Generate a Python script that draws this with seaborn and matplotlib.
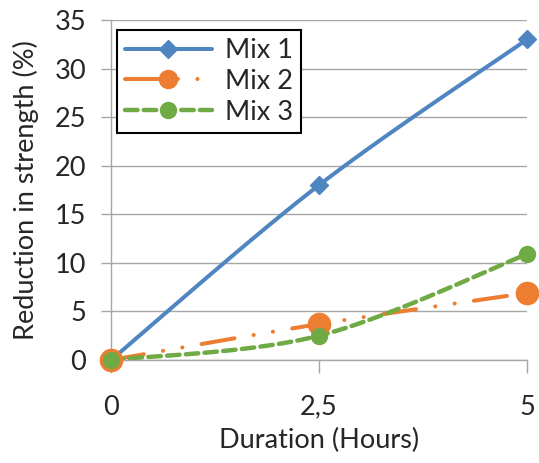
import numpy as np
import pandas as pd
import matplotlib
matplotlib.use("Agg")
import matplotlib.pyplot as plt
from matplotlib.lines import Line2D
import seaborn as sns

# data
hours = [0, 2.5, 5]
hour_labels = ["0", "2,5", "5"]
mix1 = [0, 18, 33]
mix2 = [0, 3.7, 6.9]
mix3 = [0, 2.5, 10.9]
series_names = ["Mix 1", "Mix 2", "Mix 3"]

sns.set_style("white")
plt.rcParams['font.family'] = ['Lato', 'DejaVu Sans']
plt.rcParams['lines.scale_dashes'] = False


def smooth(x, y, n=60):
    # Excel style smoothed line: cubic bezier through the points
    pts = np.column_stack([x, y]).astype(float)
    p = np.vstack([pts[0], pts, pts[-1]])
    out = []
    t = np.linspace(0, 1, n)[:, None]
    for i in range(len(pts) - 1):
        p0, p1, p2, p3 = p[i], p[i + 1], p[i + 2], p[i + 3]
        c1 = p1 + (p2 - p0) / 6
        c2 = p2 - (p3 - p1) / 6
        seg = (1 - t)**3 * p1 + 3 * (1 - t)**2 * t * c1 + 3 * (1 - t) * t**2 * c2 + t**3 * p2
        out.append(seg if i == 0 else seg[1:])
    return np.vstack(out)


colors = ["#4F86C2", "#ED7D31", "#6FAA45"]
dashes = [None, (24, 14, 0.1, 14, 0.1, 14), (9, 4.5)]
caps = ["round", "round", "round"]
widths = [2.9, 2.9, 3.2]
markers = ["D", "o", "o"]
msizes = [9, 16, 11.5]

fig = plt.figure(figsize=(5.39, 4.63), dpi=100)
ax = fig.add_axes([111 / 539, 1 - 360 / 463, 416 / 539, 340 / 463])

for ys, name, c, d, cap, lw, m, ms in zip([mix1, mix2, mix3], series_names, colors, dashes, caps, widths, markers, msizes):
    curve = smooth(hours, ys)
    df = pd.DataFrame({"x": curve[:, 0], "y": curve[:, 1]})
    sns.lineplot(data=df, x="x", y="y", ax=ax, color=c, linewidth=lw, sort=False, estimator=None)
    ln = ax.lines[-1]
    if d is not None:
        ln.set_dashes(d)
    ln.set_dash_capstyle(cap)
    ln.set_solid_capstyle("round")
    ln.set_clip_on(False)
    ax.plot(hours, ys, linestyle="none", marker=m, markersize=ms, color=c,
            markeredgecolor=c, clip_on=False, zorder=3)

ax.set_xlim(0, 5)
ax.set_ylim(0, 35)
ax.set_xticks(hours)
ax.set_xticklabels(hour_labels)
ax.set_yticks(range(0, 36, 5))
ax.yaxis.grid(True, color="#A6A6A6", linewidth=1)
ax.xaxis.grid(False)
ax.set_axisbelow(True)
for s in ["top", "right"]:
    ax.spines[s].set_visible(False)
for s in ["left", "bottom"]:
    ax.spines[s].set_color("#A6A6A6")
    ax.spines[s].set_linewidth(1)
ax.tick_params(axis="y", length=7, width=1, color="#A6A6A6", pad=11, labelsize=19.5, direction="out", left=True)
ax.tick_params(axis="x", length=9, width=1, color="#A6A6A6", pad=16, labelsize=19.5, direction="out", bottom=True)

ax.set_xlabel("Duration (Hours)", fontsize=19.5, labelpad=6)
ax.set_ylabel("Reduction in strength (%)", fontsize=19.5, labelpad=11)

handles = []
for name, c, d, cap, lw, m, ms in zip(series_names, colors, dashes, caps, widths, markers, msizes):
    h = Line2D([], [], color=c, linewidth=lw, marker=m, markersize=min(ms, 13), markeredgecolor=c,
               dash_capstyle=cap, solid_capstyle="round")
    if d is not None:
        h.set_dashes(d)
    handles.append(h)
leg = ax.legend(handles, series_names, loc="upper left", bbox_to_anchor=(0.014, 0.971),
                borderaxespad=0, fontsize=19.5, frameon=True, fancybox=False,
                handlelength=3.2, handletextpad=0.5, labelspacing=0.22, borderpad=0.3)
leg.get_frame().set_edgecolor("black")
leg.get_frame().set_linewidth(1.5)
leg.get_frame().set_alpha(1)

fig.savefig("out.png", dpi=100)
